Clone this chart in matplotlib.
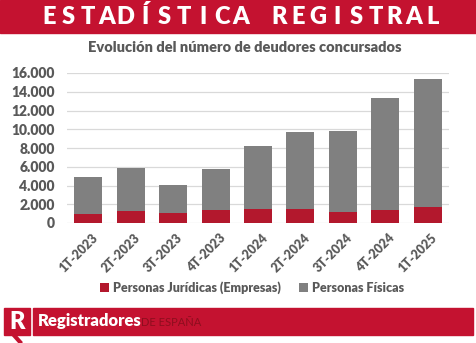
import matplotlib.pyplot as plt
import numpy as np
from matplotlib.patches import Rectangle
from matplotlib.lines import Line2D

quarters = ['1T-2023', '2T-2023', '3T-2023', '4T-2023', '1T-2024',
            '2T-2024', '3T-2024', '4T-2024', '1T-2025']
juridicas = [950, 1230, 1020, 1340, 1490, 1480, 1170, 1380, 1700]
totales = [4890, 5900, 4040, 5770, 8180, 9700, 9840, 13340, 15360]
fisicas = [t - j for t, j in zip(totales, juridicas)]

red = '#B3182D'
grey = '#808080'
banner = '#C41230'
text_grey = '#595959'

plt.rcParams['font.family'] = ['Lato', 'DejaVu Sans']

fig = plt.figure(figsize=(4.77, 3.43), dpi=100)
W, H = 477, 343

# top banner, letters spaced out by hand
fig.patches.append(Rectangle((0, 1 - 33 / H), 1, 33 / H, transform=fig.transFigure,
                             color=banner, zorder=0))
header = 'ESTADÍSTICA REGISTRAL'
for i, ch in enumerate(header):
    fig.text((49 + i * 19.2) / W, 1 - 17 / H, ch, color='white', fontsize=17,
             fontweight=800, ha='center', va='center')

# chart title
fig.text(245 / W, 1 - 48 / H, 'Evolución del número de deudores concursados', color=text_grey,
         fontsize=10.5, fontweight=800, ha='center', va='center')

ax = fig.add_axes([67 / W, 1 - 223 / H, (449 - 67) / W, (223 - 73) / H])
x = np.arange(len(quarters))
ax.bar(x, juridicas, width=0.66, color=red, label='Personas Jurídicas (Empresas)', zorder=3)
ax.bar(x, fisicas, width=0.66, bottom=juridicas, color=grey, label='Personas Físicas', zorder=3)

ax.set_xlim(-0.5, len(quarters) - 0.5)
ax.set_ylim(0, 16000)
ax.set_yticks(range(0, 16001, 2000))
ax.set_yticklabels([f'{v:,}'.replace(',', '.') for v in range(0, 16001, 2000)],
                   fontsize=10, fontweight=800, color=text_grey)
ax.set_xticks(x + 0.08)
ax.set_xticklabels(quarters, rotation=45, ha='right', rotation_mode='anchor',
                   fontsize=9, fontweight=800, color=text_grey)
ax.tick_params(axis='y', length=0, pad=9)
ax.tick_params(axis='x', length=0, pad=6)
ax.grid(axis='y', color='#D9D9D9', linewidth=0.9, zorder=0)
for s in ax.spines.values():
    s.set_visible(False)

leg = fig.legend(loc='center', bbox_to_anchor=(252 / W, 1 - 288 / H), ncol=2, frameon=False,
                 handlelength=0.7, handleheight=0.7, handletextpad=0.3,
                 columnspacing=1.5, prop={'weight': 800, 'size': 9})
for t in leg.get_texts():
    t.set_color(text_grey)

# bottom banner
fig.patches.append(Rectangle((33 / W, 1 - 335 / H), (473 - 33) / W, 27 / H,
                             transform=fig.transFigure, color=banner, zorder=0))
fig.text(38 / W, 1 - 321 / H, 'Registradores', color='white', fontsize=12,
         fontweight=800, ha='left', va='center')
fig.text(141 / W, 1 - 322 / H, 'DE ESPAÑA', color='#8E0E1E', fontsize=8,
         ha='left', va='center')

# logo block with an R
fig.patches.append(Rectangle((4 / W, 1 - 335 / H), 26 / W, 27 / H,
                             transform=fig.transFigure, color=banner, zorder=0))
fig.text(17 / W, 1 - 322 / H, 'R', color='white', fontsize=17, fontweight=800,
         ha='center', va='center')
fig.lines.append(Line2D([12 / W, 20 / W], [1 - 333 / H, 1 - 342 / H], transform=fig.transFigure,
                        color=banner, linewidth=3))

fig.savefig('out.png', dpi=100)
